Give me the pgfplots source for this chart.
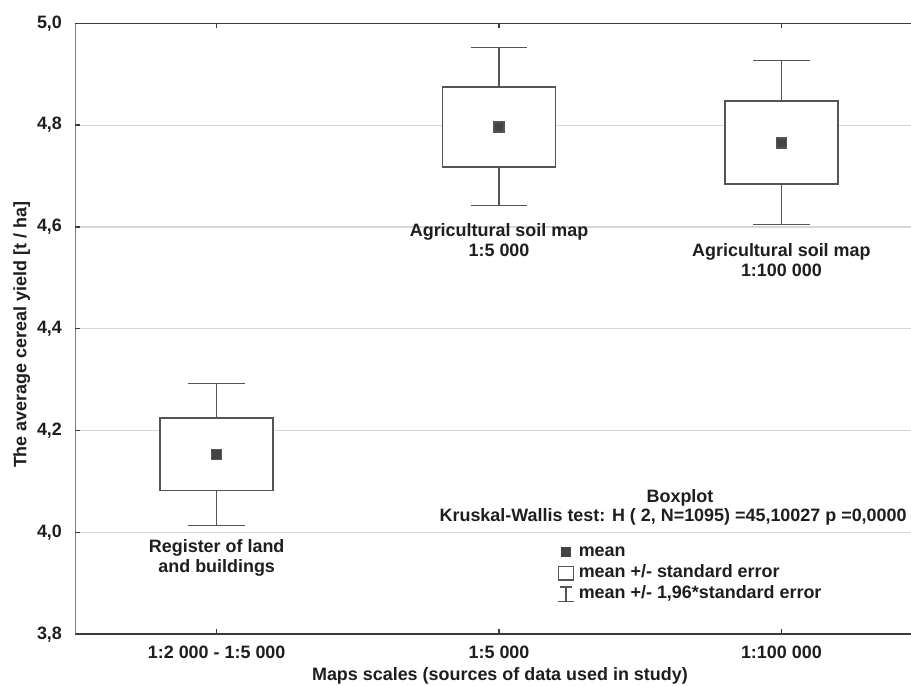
\documentclass[border=0pt]{standalone}
\usepackage{fontspec}
\setmainfont{Liberation Sans}
\usepackage{pgfplots}
\pgfplotsset{compat=1.18}
\usepgfplotslibrary{statistics}
\definecolor{framecol}{HTML}{3A3A3A}
\definecolor{linegray}{HTML}{555555}
\definecolor{meangray}{HTML}{444444}
\definecolor{gridgray}{HTML}{D6D6D6}
\definecolor{textcol}{HTML}{1E1E1E}
\begin{document}
\begin{tikzpicture}[font=\fontsize{9}{10}\selectfont\bfseries, text=textcol]
\begin{axis}[
  scale only axis,
  width=417.75bp, height=305.5bp,
  xmin=-0.5, xmax=2.459,
  ymin=3.8, ymax=5.0,
  axis line style={draw=none},
  xtick={0,1,2},
  xticklabels={1:2 000 - 1:5 000, 1:5 000, 1:100 000},
  xtick pos=both, xticklabel pos=left,
  ytick={3.8,4.0,4.2,4.4,4.6,4.8,5.0},
  ytick pos=left,
  tick align=inside,
  major tick length=2.5bp,
  tick style={framecol, line width=0.7bp},
  ymajorgrids,
  grid style={gridgray, line width=0.6bp},
  yticklabel style={/pgf/number format/.cd, use comma, fixed, fixed zerofill, precision=1, assume math mode=true, /tikz/.cd, xshift=-3.25bp},
  xticklabel style={yshift=-2.1bp},
  xlabel={Maps scales (sources of data used in study)},
  ylabel={The average cereal yield [t / ha]},
  xlabel style={at={(axis description cs:0.508,-0.0682)}, anchor=center},
  ylabel style={at={(axis description cs:-0.0644,0.49)}, anchor=center},
  boxplot/draw direction=y,
  boxplot/draw/median/.code={},
  boxplot/every box/.style={fill=white},
  boxplot/every average/.style={/tikz/mark=square*, /tikz/mark size=2.5bp},
  legend style={draw=none, fill=none, inner sep=0pt, row sep=0pt,
    at={(axis description cs:0.5763,0.152)}, anchor=north west,
    nodes={inner ysep=1bp, inner xsep=2bp, text height=6.5bp, text depth=2bp, font=\fontsize{9}{10}\selectfont\bfseries}},
  legend cell align=left,
]
\addplot[forget plot, color=meangray, draw=linegray, line width=0.75bp,
  boxplot prepared={draw position=0, lower whisker=4.014, lower quartile=4.082,
    median=4.152, upper quartile=4.225, upper whisker=4.293, average=4.153,
    box extend=0.4, whisker extend=0.2}] coordinates {};
\addplot[forget plot, color=meangray, draw=linegray, line width=0.75bp,
  boxplot prepared={draw position=1, lower whisker=4.642, lower quartile=4.718,
    median=4.796, upper quartile=4.875, upper whisker=4.952, average=4.796,
    box extend=0.4, whisker extend=0.2}] coordinates {};
\addplot[forget plot, color=meangray, draw=linegray, line width=0.75bp,
  boxplot prepared={draw position=2, lower whisker=4.605, lower quartile=4.684,
    median=4.765, upper quartile=4.847, upper whisker=4.927, average=4.765,
    box extend=0.4, whisker extend=0.2}] coordinates {};
\draw[framecol, line width=1bp] (rel axis cs:1,1) -- (rel axis cs:0,1) -- (rel axis cs:0,0) -- (rel axis cs:1,0);
\node[align=center] at (axis cs:0,3.95) {Register of land\\and buildings};
\node[align=center] at (axis cs:1,4.5735) {Agricultural soil map\\1:5 000};
\node[align=center] at (axis cs:2,4.5355) {Agricultural soil map\\1:100 000};
\node at (axis cs:1.641,4.068) {Boxplot};
\node[anchor=east, inner sep=0pt] at (axis cs:2.445,4.030) {Kruskal-Wallis test: H ( 2, N=1095) =45,10027 p =0,0000};
\addlegendimage{legend image code/.code={\path[draw=none, fill=none] (0bp,-4bp) rectangle (8bp,4bp); \path[draw=none, fill=meangray] (1.5bp,-2.5bp) rectangle (6.5bp,2.5bp);}}
\addlegendentry{mean}
\addlegendimage{legend image code/.code={\path[draw=linegray, line width=0.7bp, fill=white] (0.3bp,-3.3bp) rectangle (7.7bp,3.3bp);}}
\addlegendentry{mean +/- standard error}
\addlegendimage{legend image code/.code={\path[draw=linegray, line width=0.7bp, fill=none] (1bp,3.7bp) -- (7bp,3.7bp) (4bp,3.7bp) -- (4bp,-3.7bp) (0bp,-3.7bp) -- (8bp,-3.7bp);}}
\addlegendentry{mean +/- 1,96*standard error}
\end{axis}
\pgfresetboundingbox
\path[use as bounding box] (-37.75bp,-25.85bp) rectangle (417.75bp,317.15bp);
\end{tikzpicture}
\end{document}
